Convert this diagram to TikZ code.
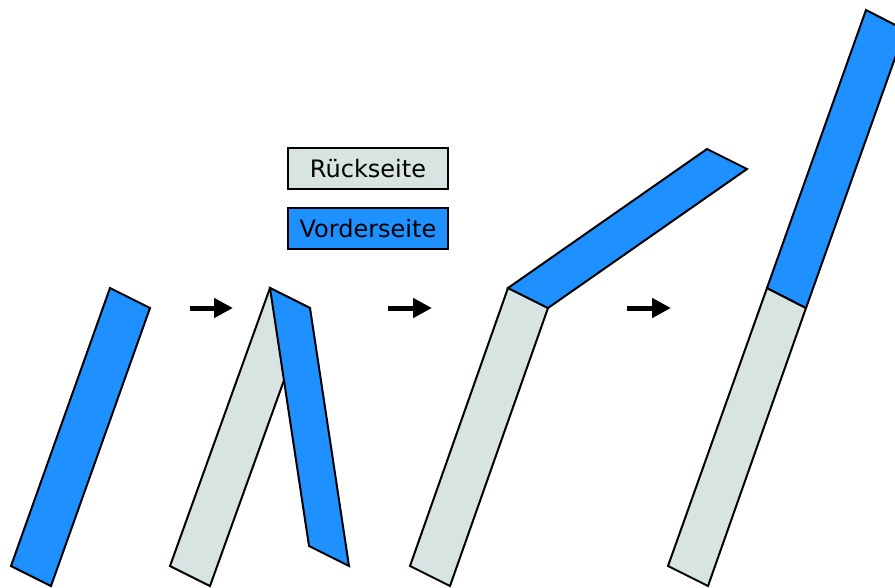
\documentclass[tikz,border=0pt]{standalone}
\usepackage{fontspec}
\setmainfont{DejaVu Sans}
\usetikzlibrary{arrows.meta}
\definecolor{frontblue}{RGB}{30,144,255}
\definecolor{backgray}{RGB}{216,228,226}
\tikzset{
  front/.style={fill=frontblue, draw=black, line width=2pt, line join=miter},
  back/.style={fill=backgray, draw=black, line width=2pt, line join=miter},
  legendbox/.style={draw=black, line width=2pt, minimum width=160pt, minimum height=41pt, inner sep=0pt, font=\fontsize{24}{28}\selectfont},
  steparrow/.style={line width=5pt, -{Triangle[length=19pt,width=19pt]}}
}
\begin{document}
\begin{tikzpicture}[x=1pt,y=-1pt]
\useasboundingbox (0,0) rectangle (895,587);
\clip (0,0) rectangle (895,587);
% strip 1
\draw[front] (11,566) -- (51,586) -- (150,308) -- (110,288) -- cycle;
% strip 2
\draw[back] (170,566) -- (210,586) -- (310,308) -- (270,288) -- cycle;
\draw[front] (270,288) -- (310,308) -- (349,566) -- (309,546) -- cycle;
% strip 3
\draw[back] (410,566) -- (450,586) -- (548,308) -- (508,288) -- cycle;
\draw[front] (508,288) -- (707,149) -- (747,169) -- (548,308) -- cycle;
% strip 4
\draw[back] (668,566) -- (708,586) -- (806,308) -- (767,288) -- cycle;
\draw[front] (767,288) -- (866,10) -- (905,30) -- (806,308) -- cycle;
% arrows
\coordinate (a1s) at (190,308); \coordinate (a1e) at (233,308);
\coordinate (a2s) at (388,308); \coordinate (a2e) at (432,308);
\coordinate (a3s) at (627,308); \coordinate (a3e) at (671,308);
\draw[steparrow] (a1s) -- (a1e);
\draw[steparrow] (a2s) -- (a2e);
\draw[steparrow] (a3s) -- (a3e);
% legend
\node[legendbox, fill=backgray] (rueck) at (368,168.5) {Rückseite};
\node[legendbox, fill=frontblue] (vorder) at (368,228.5) {Vorderseite};
\end{tikzpicture}
\end{document}
